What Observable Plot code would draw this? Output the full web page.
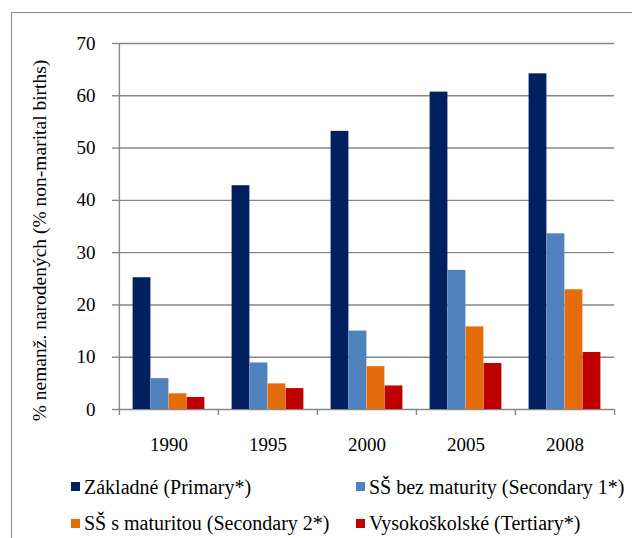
<!DOCTYPE html>
<html><head><meta charset="utf-8">
<script src="https://cdn.jsdelivr.net/npm/d3@7"></script>
<script src="https://cdn.jsdelivr.net/npm/@observablehq/plot@0.6"></script>
<style>
html,body{margin:0;padding:0;background:#fff;}
#wrap{position:relative;width:632px;height:538px;overflow:hidden;font-family:'Liberation Serif',serif;}
#chart{position:absolute;left:0;top:0;}
#border{position:absolute;left:11px;top:12px;width:800px;height:800px;border:1.5px solid #8c8c8c;pointer-events:none;}
.item{position:absolute;display:flex;align-items:center;height:24px;line-height:24px;font-size:20px;color:#000;white-space:nowrap;font-family:'Liberation Serif',serif;}
.sw{width:9px;height:9px;margin-right:4px;flex:none;}
</style></head><body><div id="wrap"><div id="chart"></div><div id="legend"></div><div id="border"></div></div>
<script>
const years = ["1990","1995","2000","2005","2008"];
const series = ["Základné (Primary*)","SŠ bez maturity (Secondary 1*)","SŠ s maturitou (Secondary 2*)","Vysokoškolské (Tertiary*)"];
const primary = [25.2,42.8,53.2,60.7,64.2];
const secondary1 = [5.9,8.9,15.0,26.6,33.6];
const secondary2 = [3.0,4.9,8.2,15.8,22.9];
const tertiary = [2.3,4.0,4.5,8.8,10.9];
const yTicks = [0,10,20,30,40,50,60,70];
const yLabel = "% nemanž. narodených (% non-marital births)";
const colors = ["#002060","#4F81BD","#E46C0A","#C00000"];

const FONT = "'Liberation Serif',serif";
const W = 632, H = 455, mL = 118, mR = 18, mT = 43, mB = 46;
const step = (W - mL - mR) / years.length;
const barW = 18;
const padOuter = (step - series.length * barW) / 2;
const grey = "#878787";

const valueArrays = [primary, secondary1, secondary2, tertiary];
const data = series.flatMap((s, i) => years.map((y, j) => ({year: y, series: s, value: valueArrays[i][j]})));

const chart = Plot.plot({
  width: W, height: H,
  marginLeft: mL, marginRight: mR, marginTop: mT, marginBottom: mB,
  style: {fontFamily: FONT, fontSize: "19px", color: "#000", background: "transparent"},
  x: {type: "band", domain: years, padding: 0, axis: null},
  y: {domain: [0, 70], axis: null},
  marks: [
    Plot.gridY(yTicks, {stroke: grey, strokeOpacity: 1, strokeWidth: 1.4}),
    ...series.map((s, i) => Plot.barY(data.filter(d => d.series === s), {
      x: "year", y: "value", fill: colors[i],
      insetLeft: padOuter + i * barW,
      insetRight: step - padOuter - (i + 1) * barW
    })),
    Plot.ruleX([years[0]], {dx: -step / 2, stroke: grey, strokeWidth: 1.4}),
    Plot.axisY(yTicks, {tickSize: 6, tickPadding: 17, stroke: grey, strokeWidth: 1.4, fill: "#000", label: null, fontFamily: FONT}),
    Plot.axisX(years, {tickSize: 0, tickPadding: 28, fill: "#000", label: null, fontFamily: FONT}),
    Plot.axisX(years, {tickSize: 6, tickFormat: () => "", dx: -step / 2, stroke: grey, strokeWidth: 1.4, label: null}),
    Plot.axisX([years[years.length - 1]], {tickSize: 6, tickFormat: () => "", dx: step / 2, stroke: grey, strokeWidth: 1.4, label: null}),
    Plot.text([yLabel], {text: d => d, frameAnchor: "left", textAnchor: "middle", rotate: -90, dx: -79, dy: 14, fontSize: 19.5, fontFamily: FONT, fill: "#000"})
  ]
});
document.getElementById("chart").appendChild(chart);

const legendPos = [[71, 486.5], [356, 486.5], [71, 523], [356, 523]];
const legend = document.getElementById("legend");
series.forEach((s, i) => {
  const item = document.createElement("div");
  item.className = "item";
  item.style.left = legendPos[i][0] + "px";
  item.style.top = (legendPos[i][1] - 12) + "px";
  const sw = document.createElement("span");
  sw.className = "sw";
  sw.style.background = colors[i];
  const t = document.createElement("span");
  t.textContent = s;
  item.appendChild(sw);
  item.appendChild(t);
  legend.appendChild(item);
});
</script></body></html>
